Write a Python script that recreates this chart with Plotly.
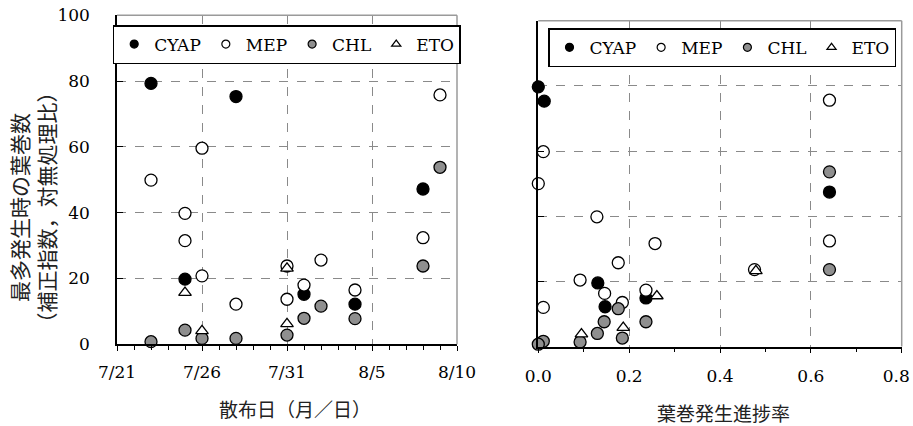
import plotly.graph_objects as go

# ---------------- data ----------------
# Left panel: spray date vs. leaf-roll count (corrected index, ratio to untreated)
cyap_date = ["2020-07-23", "2020-07-25", "2020-07-28", "2020-08-01", "2020-08-04", "2020-08-08"]
cyap_val_l = [79.3, 19.8, 75.3, 15.2, 12.2, 47.2]

mep_date = ["2020-07-23", "2020-07-25", "2020-07-25", "2020-07-26", "2020-07-26", "2020-07-28",
            "2020-07-31", "2020-07-31", "2020-08-01", "2020-08-02", "2020-08-04", "2020-08-08", "2020-08-09"]
mep_val_l = [49.9, 39.8, 31.5, 59.6, 20.8, 12.2, 23.8, 13.7, 18.0, 25.6, 16.5, 32.4, 75.8]

chl_date = ["2020-07-23", "2020-07-25", "2020-07-26", "2020-07-28", "2020-07-31",
            "2020-08-01", "2020-08-02", "2020-08-04", "2020-08-08", "2020-08-09"]
chl_val_l = [0.8, 4.3, 1.8, 1.8, 2.8, 7.9, 11.6, 7.8, 23.8, 53.8]

eto_date = ["2020-07-25", "2020-07-26", "2020-07-31", "2020-07-31"]
eto_val_l = [15.7, 4.1, 23.1, 6.2]

# Right panel: leaf-roll progress rate vs. count
cyap_rate = [0.0, 0.013, 0.131, 0.147, 0.237, 0.641]
cyap_val_r = [79.7, 75.3, 19.5, 12.2, 14.9, 47.4]

mep_rate = [0.0, 0.011, 0.129, 0.257, 0.641, 0.641, 0.476, 0.176, 0.092, 0.146, 0.185, 0.237, 0.011]
mep_val_r = [50.0, 59.8, 39.8, 31.6, 75.6, 32.4, 23.6, 25.7, 20.4, 16.3, 13.5, 17.3, 12.0]

chl_rate = [0.641, 0.641, 0.176, 0.145, 0.237, 0.130, 0.185, 0.092, 0.011, 0.0]
chl_val_r = [53.6, 23.6, 11.6, 7.6, 7.6, 4.0, 2.6, 1.4, 1.6, 0.7]

eto_rate = [0.479, 0.261, 0.187, 0.095]
eto_val_r = [23.2, 15.5, 5.8, 3.8]

series_names = ["CYAP", "MEP", "CHL", "ETO"]

# tick labels
date_tickvals = ["2020-07-21", "2020-07-26", "2020-07-31", "2020-08-05", "2020-08-10"]
date_ticktext = ["7/21", "7/26", "7/31", "8/5", "8/10"]
rate_tickvals = [0.0, 0.2, 0.4, 0.6, 0.8]
rate_ticktext = ["0.0", "0.2", "0.4", "0.6", "0.8\u00a0\u00a0"]
y_tickvals = [0, 20, 40, 60, 80, 100]

y_title = "最多発生時の葉巻数<br>（補正指数，対無処理比）"
x_title_left = "散布日（月／日）"
x_title_right = "葉巻発生進捗率"

# ---------------- styles ----------------
W, H = 913, 426
SERIF = "DejaVu Serif"
JP = "Noto Sans CJK JP"
GRID = "#8a8a8a"
BORDER = "#9a9a9a"
CHL_FILL = "#8f8f8f"

styles = {
    "CYAP": dict(symbol="circle", color="black", size=12),
    "MEP": dict(symbol="circle", color="white", size=12),
    "CHL": dict(symbol="circle", color=CHL_FILL, size=12),
    "ETO": dict(symbol="triangle-up", color="white", size=11),
}

left_data = {
    "CYAP": (cyap_date, cyap_val_l),
    "MEP": (mep_date, mep_val_l),
    "CHL": (chl_date, chl_val_l),
    "ETO": (eto_date, eto_val_l),
}
right_data = {
    "CYAP": (cyap_rate, cyap_val_r),
    "MEP": (mep_rate, mep_val_r),
    "CHL": (chl_rate, chl_val_r),
    "ETO": (eto_rate, eto_val_r),
}

fig = go.Figure()

for name in series_names:
    st = styles[name]
    xs, ys = left_data[name]
    fig.add_trace(go.Scatter(
        x=xs, y=ys, mode="markers", name=name, showlegend=False,
        xaxis="x", yaxis="y", cliponaxis=False,
        marker=dict(symbol=st["symbol"], color=st["color"], size=st["size"],
                    line=dict(color="black", width=1.3)),
    ))
for name in series_names:
    st = styles[name]
    xs, ys = right_data[name]
    fig.add_trace(go.Scatter(
        x=xs, y=ys, mode="markers", name=name, showlegend=False,
        xaxis="x2", yaxis="y2", cliponaxis=False,
        marker=dict(symbol=st["symbol"], color=st["color"], size=st["size"],
                    line=dict(color="black", width=1.3)),
    ))

# legend-only entries (smaller symbols, like the reference legend)
for leg, xa, ya in (("legend", "x", "y"), ("legend2", "x2", "y2")):
    for name in series_names:
        st = styles[name]
        fig.add_trace(go.Scatter(
            x=[None], y=[None], mode="markers", name=name, legend=leg,
            xaxis=xa, yaxis=ya, showlegend=True,
            marker=dict(symbol=st["symbol"], color=st["color"], size=8,
                        line=dict(color="black", width=1.2)),
        ))

# domains in pixel terms
def px_x(a, b):
    return [a / W, b / W]

def px_y(top, bottom):
    return [(H - bottom) / H, (H - top) / H]

tickfont = dict(family=SERIF, size=17, color="black")

common_y = dict(
    range=[0, 100], tickvals=y_tickvals, ticks="inside", ticklen=6, tickcolor="black",
    tickwidth=1.2, showline=True, linecolor="black", linewidth=1.5, showgrid=True,
    gridcolor=GRID, griddash="dash", gridwidth=1, zeroline=False, tickfont=tickfont,
    automargin=False,
)

fig.update_layout(
    width=W, height=H,
    margin=dict(l=0, r=0, t=0, b=0),
    paper_bgcolor="white", plot_bgcolor="white",
    font=dict(family=SERIF, size=17, color="black"),
    xaxis=dict(
        domain=px_x(117, 457), anchor="y", type="date",
        range=["2020-07-21", "2020-08-10"],
        tickmode="array", tickvals=date_tickvals, ticktext=date_ticktext,
        ticks="outside", ticklen=5, tickcolor="black", tickwidth=1.2,
        minor=dict(tickmode="linear", tick0="2020-07-21", dtick=86400000,
                   ticks="outside", ticklen=4, tickcolor="black", tickwidth=1, showgrid=False),
        showline=True, linecolor="black", linewidth=1.5,
        showgrid=True, gridcolor=GRID, griddash="dash", gridwidth=1,
        zeroline=False, tickfont=tickfont, ticklabelstandoff=7, automargin=False,
        ticklabeloverflow="allow",
    ),
    yaxis=dict(domain=px_y(15.3, 344.3), anchor="x", ticklabelstandoff=22, **common_y),
    xaxis2=dict(
        domain=px_x(538.3, 901.7), anchor="y2",
        range=[0, 0.8], tickmode="array", tickvals=rate_tickvals, ticktext=rate_ticktext,
        ticks="outside", ticklen=5, tickcolor="black", tickwidth=1.2,
        minor=dict(tickmode="linear", tick0=0, dtick=0.1,
                   ticks="outside", ticklen=4, tickcolor="black", tickwidth=1, showgrid=False),
        showline=True, linecolor="black", linewidth=1.5,
        showgrid=True, gridcolor=GRID, griddash="dash", gridwidth=1,
        zeroline=False, tickfont=tickfont, ticklabelstandoff=8, automargin=False,
        ticklabeloverflow="allow",
    ),
    yaxis2=dict(domain=px_y(20.7, 346.5), anchor="x2", showticklabels=False, **common_y),
    legend=dict(
        orientation="h", x=286.7 / W, xanchor="center", y=(H - 25) / H, yanchor="top",
        bgcolor="white", bordercolor="black", borderwidth=1.5,
        font=dict(family=SERIF, size=17, color="black"), itemwidth=30,
        traceorder="normal",
    ),
    legend2=dict(
        orientation="h", x=722 / W, xanchor="center", y=(H - 28.3) / H, yanchor="top",
        bgcolor="white", bordercolor="black", borderwidth=1.5,
        font=dict(family=SERIF, size=17, color="black"), itemwidth=30,
        traceorder="normal",
    ),
)

# grey top/right frame lines of each plot area
for xr, yr in (("x domain", "y domain"), ("x2 domain", "y2 domain")):
    fig.add_shape(type="line", xref=xr, yref=yr, x0=0, x1=1, y0=1, y1=1,
                  line=dict(color=BORDER, width=1.5), layer="above")
    fig.add_shape(type="line", xref=xr, yref=yr, x0=1, x1=1, y0=0, y1=1,
                  line=dict(color=BORDER, width=1.5), layer="above")

# axis titles
fig.add_annotation(text=y_title, xref="paper", yref="paper", x=31.5 / W, y=(H - 208) / H,
                   textangle=-90, showarrow=False, xanchor="center", yanchor="middle",
                   font=dict(family=JP, size=21, color="#222222"))
fig.add_annotation(text=x_title_left, xref="paper", yref="paper", x=295 / W, y=(H - 408) / H,
                   showarrow=False, xanchor="center", yanchor="middle",
                   font=dict(family=JP, size=19, color="#222222"))
fig.add_annotation(text=x_title_right, xref="paper", yref="paper", x=723 / W, y=(H - 412) / H,
                   showarrow=False, xanchor="center", yanchor="middle",
                   font=dict(family=JP, size=19, color="#222222"))

fig.write_html("out.html", config={"displayModeBar": False},
               post_script="document.body.style.margin='0px';")
